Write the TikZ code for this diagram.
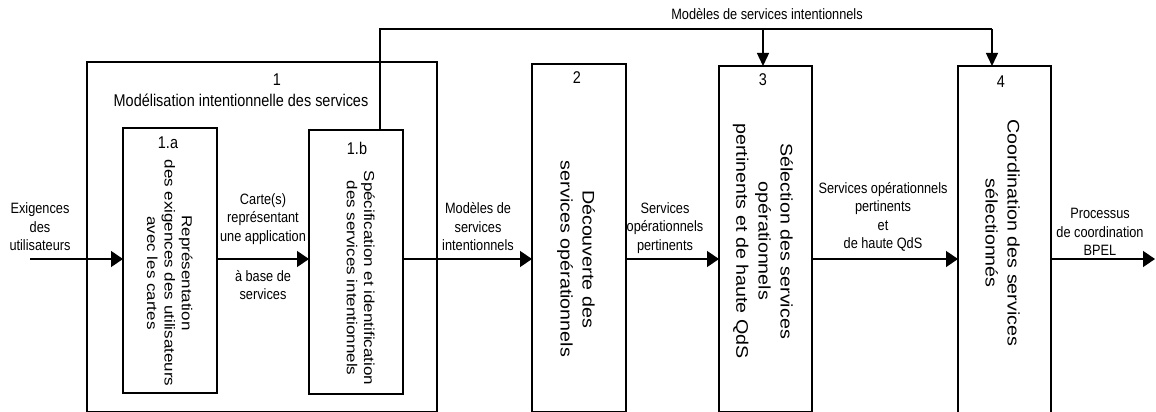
\documentclass[tikz,border=0pt]{standalone}
\usepackage{fontspec}
\usepackage{graphicx}
\setmainfont{Liberation Sans}[FakeStretch=0.85]
\newfontfamily\vfont{Liberation Sans}
\usetikzlibrary{arrows.meta}
\newcommand\vtext[1]{\scalebox{1}[0.85]{\begin{tabular}{@{}c@{}}#1\end{tabular}}}
\tikzset{
  box/.style={draw, line width=1.6pt, inner sep=0pt, outer sep=0pt, anchor=north west},
  lbl/.style={align=center, inner sep=0pt, font=\fontsize{15}{18.5}\selectfont},
  ttl/.style={align=center, inner sep=0pt, font=\fontsize{17}{20}\selectfont},
  vt/.style={rotate=-90, inner sep=0pt, font=\vfont\fontsize{17}{20.5}\selectfont},
  vtbig/.style={rotate=-90, inner sep=0pt, font=\vfont\fontsize{19.7}{26}\selectfont},
  flow/.style={line width=1.4pt, -{Triangle[length=12pt,width=16pt]}},
  flowv/.style={line width=1.4pt, -{Triangle[length=13pt,width=12pt]}},
  plain/.style={line width=1.4pt}
}
\begin{document}
\begin{tikzpicture}[x=1pt,y=-1pt]
\useasboundingbox (0,0) rectangle (1156,412);
\clip (0,0) rectangle (1156,412);
% boxes
\node[box, minimum width=350pt, minimum height=349.5pt] (b1) at (87,62) {};
\node[box, minimum width=94pt, minimum height=265pt] (b1a) at (123,128) {};
\node[box, minimum width=94pt, minimum height=264pt] (b1b) at (309,130) {};
\node[box, minimum width=94pt, minimum height=347.5pt] (b2) at (532,64) {};
\node[box, minimum width=93pt, minimum height=345.5pt] (b3) at (719,66) {};
\node[box, minimum width=93pt, minimum height=350pt] (b4) at (958,66) {};
% box titles
\node[ttl] (n1) at (277,80) {1};
\node[ttl] (t1) at (241,100) {Modélisation intentionnelle des services};
\node[ttl] (n1a) at (168,143) {1.a};
\node[ttl] (n1b) at (357,148) {1.b};
\node[ttl] (n2) at (577,78) {2};
\node[ttl] (n3) at (763,80) {3};
\node[ttl] (n4) at (1001,82) {4};
% vertical texts
\node[vt] (v1a) at (168,273) {\vtext{Représentation\\des exigences des utilisateurs\\avec les cartes}};
\node[vt] (v1b) at (359,278) {\vtext{Spécification et identification\\des services intentionnels}};
\node[vtbig] (v2) at (576,259) {\vtext{Découverte des\\services opérationnels}};
\node[vtbig] (v3) at (763,241) {\vtext{Sélection des services\\opérationnels\\pertinents et de haute QdS}};
\node[vtbig] (v4) at (1001,233) {\vtext{Coordination des services\\sélectionnés}};
% main flow
\coordinate (in) at (30,259);
\coordinate (out) at (1155,259);
\draw[flow] (in) -- (in -| b1a.west);
\draw[flow] (b1a.east |- in) -- (b1b.west |- in);
\draw[flow] (b1b.east |- in) -- (b2.west |- in);
\draw[flow] (b2.east |- in) -- (b3.west |- in);
\draw[flow] (b3.east |- in) -- (b4.west |- in);
\draw[flow] (b4.east |- in) -- (out);
% feedback line
\coordinate (fb) at (380,29);
\coordinate (fb3) at (763,29);
\coordinate (fb4) at (992,29);
\draw[plain] (fb |- b1b.north) -- (fb) -- (fb4);
\draw[flowv] (fb3) -- (fb3 |- b3.north);
\draw[flowv] (fb4) -- (fb4 |- b4.north);
% labels
\node[lbl] (lin) at (40,227) {Exigences\\des\\utilisateurs};
\node[lbl] (lc1) at (263,219) {Carte(s)\\représentant\\une application};
\node[lbl] (lc2) at (263,285) {à base de\\services};
\node[lbl] (lm) at (478,227) {Modèles de\\services\\intentionnels};
\node[lbl] (ls) at (665,228) {Services\\opérationnels\\pertinents};
\node[lbl] (lq) at (883,217) {Services opérationnels\\pertinents\\et\\de haute QdS};
\node[lbl] (lp) at (1100,232) {Processus\\de coordination\\BPEL};
\node[lbl] (ltop) at (767,14) {Modèles de services intentionnels};
\end{tikzpicture}
\end{document}
